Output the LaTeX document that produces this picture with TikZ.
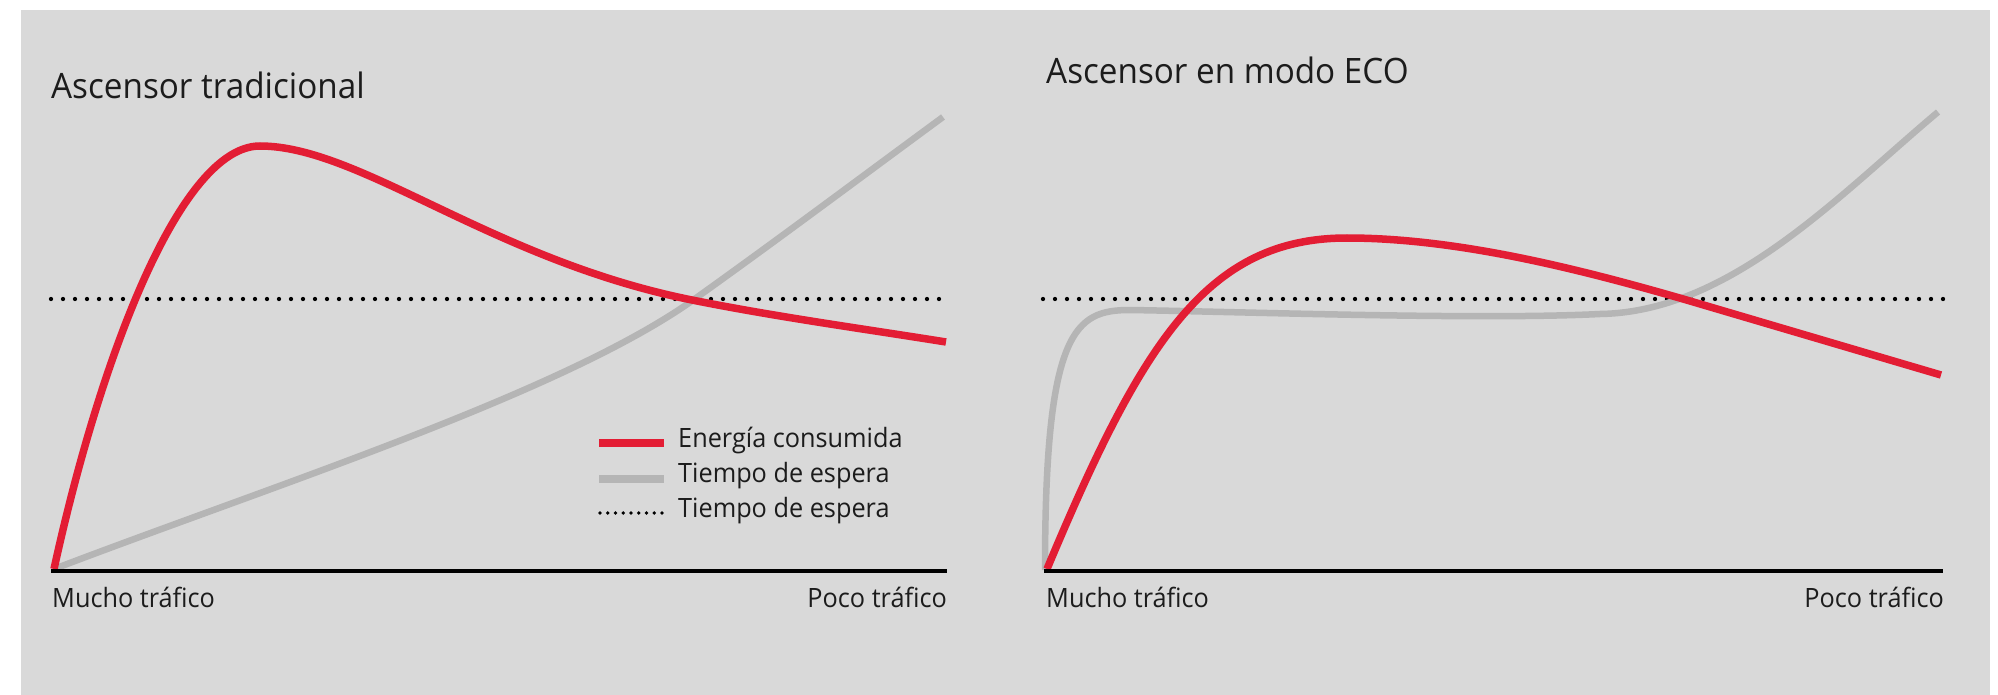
\documentclass[tikz,border=0pt]{standalone}
\usepackage{fontspec}
\setmainfont{Open Sans}[FakeStretch=0.95]
\definecolor{bgc}{HTML}{D9D9D9}
\definecolor{redc}{HTML}{E31D34}
\definecolor{grayc}{HTML}{B5B5B5}
\definecolor{txt}{HTML}{1C1C1C}
\tikzset{
  energy/.style={draw=redc, line width=7.5pt, line cap=butt, line join=round},
  waiting/.style={draw=grayc, line width=6.5pt, line cap=butt, line join=round},
  refline/.style={draw=black, line width=4.3pt, line cap=round, dash pattern=on 0pt off 12pt},
  axisline/.style={draw=black, line width=4pt},
  title/.style={inner sep=0pt, anchor=base west, text=txt, font=\fontsize{35}{40}\selectfont},
  lbl/.style={inner sep=0pt, text=txt, font=\fontsize{26.6}{30}\selectfont},
}
\begin{document}
\begin{tikzpicture}[x=1pt,y=-1pt]
\useasboundingbox (0,0) rectangle (1998,695);
\fill[white] (0,0) rectangle (1998,695);
\fill[bgc] (21,10) rectangle (1990,695);

% ---------- left chart ----------
\node[title] (t1) at (51,99) {Ascensor tradicional};
\coordinate (L0) at (51,571);
\coordinate (L1) at (947,571);
\coordinate (D0) at (51,299);
\coordinate (D1) at (947,299);
\draw[refline] (D0) -- (D1);
\draw[waiting] (54,569) .. controls (274,485) and (566,392) .. (696,298)
  .. controls (780,238) and (860,178) .. (943,117);
\draw[energy] (54,569) .. controls (100,359) and (180,146) .. (260,146)
  .. controls (360,146) and (492,260) .. (692,300)
  .. controls (777,317) and (861,328.4) .. (946,342);
\draw[axisline] (L0) -- (L1);
\node[lbl, anchor=base west] (m1) at (52,607) {Mucho tráfico};
\node[lbl, anchor=base east] (p1) at (947,607) {Poco tráfico};

% legend
\coordinate (g1a) at (599,443); \coordinate (g1b) at (664,443);
\coordinate (g2a) at (599,479); \coordinate (g2b) at (664,479);
\coordinate (g3a) at (600,513); \coordinate (g3b) at (664,513);
\draw[draw=redc, line width=8pt] (g1a) -- (g1b);
\draw[draw=grayc, line width=8pt] (g2a) -- (g2b);
\draw[draw=black, line width=3.6pt, line cap=round, dash pattern=on 0pt off 7.75pt] (g3a) -- (g3b);
\node[lbl, anchor=base west] (e1) at (678,447) {Energía consumida};
\node[lbl, anchor=base west] (e2) at (678,482) {Tiempo de espera};
\node[lbl, anchor=base west] (e3) at (678,517) {Tiempo de espera};

% ---------- right chart ----------
\node[title] (t2) at (1046,84) {Ascensor en modo ECO};
\coordinate (R0) at (1044,571);
\coordinate (R1) at (1943,571);
\coordinate (E0) at (1043,299);
\coordinate (E1) at (1943,299);
\draw[refline] (E0) -- (E1);
\draw[waiting] (1045,570) .. controls (1045,330) and (1075,310) .. (1130,310)
  .. controls (1250,312) and (1480,320) .. (1600,314)
  .. controls (1730,312) and (1838,196) .. (1938,112);
\draw[energy] (1047,569) .. controls (1142,342) and (1207,238) .. (1347,238)
  .. controls (1457,238) and (1580,269) .. (1690,301)
  -- (1941,375);
\draw[axisline] (R0) -- (R1);
\node[lbl, anchor=base west] (m2) at (1046,607) {Mucho tráfico};
\node[lbl, anchor=base east] (p2) at (1944,607) {Poco tráfico};
\end{tikzpicture}
\end{document}
